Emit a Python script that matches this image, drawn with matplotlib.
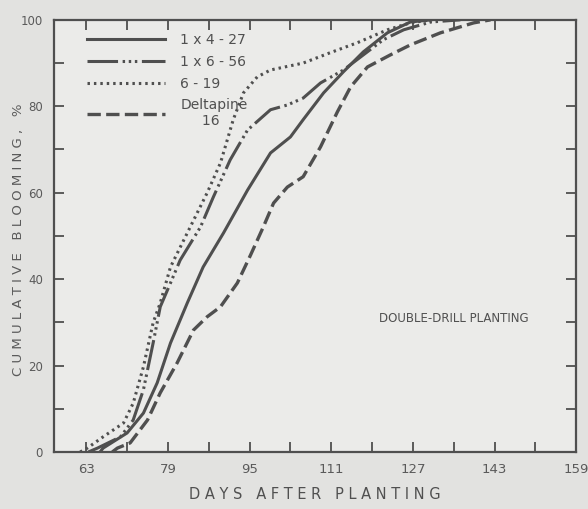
import matplotlib
matplotlib.use('Agg')
from matplotlib import pyplot as plt

# days after planting / cumulative blooming (%)
days_619 = [61.8, 63.2, 66.3, 70.3, 72.2, 74.2, 76.1, 77.5, 79.5, 82.8, 86.7, 89.3,
            91.8, 93.8, 96.5, 99.1, 105.5, 110.8, 116.1, 122.0, 126.5, 130.5]
bloom_619 = [0, 0.9, 3.5, 6.7, 11.3, 19.7, 29.9, 34.5, 42.8, 50.7, 60.0, 66.9,
             76.9, 83.1, 86.8, 88.4, 90.0, 92.4, 94.7, 97.7, 99.3, 100]

days_1656 = [63.4, 65.2, 69.7, 72.2, 74.2, 76.1, 77.5, 79.5, 81.4, 85.4, 87.9, 91.2,
             94.6, 99.1, 102.4, 105.5, 108.9, 113.4, 117.3, 121.2, 125.2, 130.5, 136.3]
bloom_1656 = [0, 0.9, 3.5, 7.4, 14.4, 25.2, 33.6, 39.1, 44.4, 52.1, 59.0, 67.6,
              74.5, 79.2, 80.3, 81.9, 85.4, 88.4, 91.9, 95.4, 97.7, 99.5, 100]

days_1427 = [65.7, 66.3, 71.0, 74.2, 76.9, 79.5, 82.8, 85.9, 89.9, 94.6, 99.1,
             103.0, 105.5, 109.5, 113.4, 117.3, 122.0, 126.5, 130.5]
bloom_1427 = [0, 0.9, 4.4, 9.0, 16.0, 25.2, 34.5, 42.8, 50.7, 60.6, 69.2,
              72.9, 76.9, 83.1, 88.0, 92.6, 97.0, 99.5, 100]

days_dp16 = [68.1, 69.1, 71.6, 75.0, 77.5, 80.8, 84.0, 86.7, 89.3, 92.6, 95.2, 97.7,
             99.7, 102.4, 105.5, 108.9, 112.2, 114.8, 118.1, 122.6, 126.5, 132.4, 138.9, 142.2]
bloom_dp16 = [0, 0.9, 2.1, 7.4, 13.7, 20.6, 28.2, 31.3, 33.6, 39.1, 45.6, 52.1,
              57.6, 61.3, 63.7, 70.6, 78.7, 84.5, 89.1, 91.9, 94.2, 97.0, 99.3, 100]

x_ticks = list(range(63, 160, 8))
x_labels = [str(t) if (t - 63) % 16 == 0 else '' for t in x_ticks]
y_ticks = list(range(0, 101, 10))
y_labels = [str(t) if t % 20 == 0 else '' for t in y_ticks]

ink = '#4f4f4f'
plt.rcParams['font.family'] = ['DejaVu Sans']

fig = plt.figure(figsize=(5.88, 5.09), dpi=100, facecolor='#e2e2e0')
ax = fig.add_axes([0.092, 0.112, 0.888, 0.849])
ax.set_facecolor('#ebebe9')

ax.plot(days_1427, bloom_1427, color=ink, linewidth=2.2, label='1 x 4 - 27')
ax.plot(days_1656, bloom_1656, color=ink, linewidth=2.2,
        linestyle=(0, (10, 1.5, 0.8, 1.2, 0.8, 1.2, 0.8, 1.5)), label='1 x 6 - 56')
ax.plot(days_619, bloom_619, color=ink, linewidth=2.2,
        linestyle=(0, (0.8, 1.3)), label='6 - 19')
ax.plot(days_dp16, bloom_dp16, color=ink, linewidth=2.4,
        linestyle=(0, (4, 1.6)), label='Deltapine\n     16')

ax.set_xlim(56.7, 159)
ax.set_ylim(0, 100)
ax.set_xticks(x_ticks)
ax.set_xticklabels(x_labels)
ax.set_yticks(y_ticks)
ax.set_yticklabels(y_labels)
ax.tick_params(direction='in', length=7, width=1.3, color=ink, labelcolor='#5a5a5a',
               labelsize=9.5, top=True, right=True, pad=8)
ax.tick_params(axis='y', pad=8, labelsize=8.5)
for s in ax.spines.values():
    s.set_color(ink)
    s.set_linewidth(1.6)

ax.set_xlabel('D A Y S   A F T E R   P L A N T I N G', fontsize=10.5, color='#505050',
              labelpad=8)
ax.set_ylabel('C U M U L A T I V E   B L O O M I N G ,   %', fontsize=9.5,
              color='#5a5a5a')
ax.yaxis.set_label_coords(-0.055, 0.49)

ax.text(135.0, 31, 'DOUBLE-DRILL PLANTING', fontsize=8.5, color='#505050',
        ha='center', va='center')

leg = ax.legend(loc='upper left', bbox_to_anchor=(0.05, 0.985), frameon=False,
                handlelength=5.6, handletextpad=1.1, labelspacing=0.55,
                fontsize=10, borderpad=0)
for t in leg.get_texts():
    t.set_color('#505050')

plt.savefig('out.png', dpi=100, facecolor=fig.get_facecolor())
plt.close()
